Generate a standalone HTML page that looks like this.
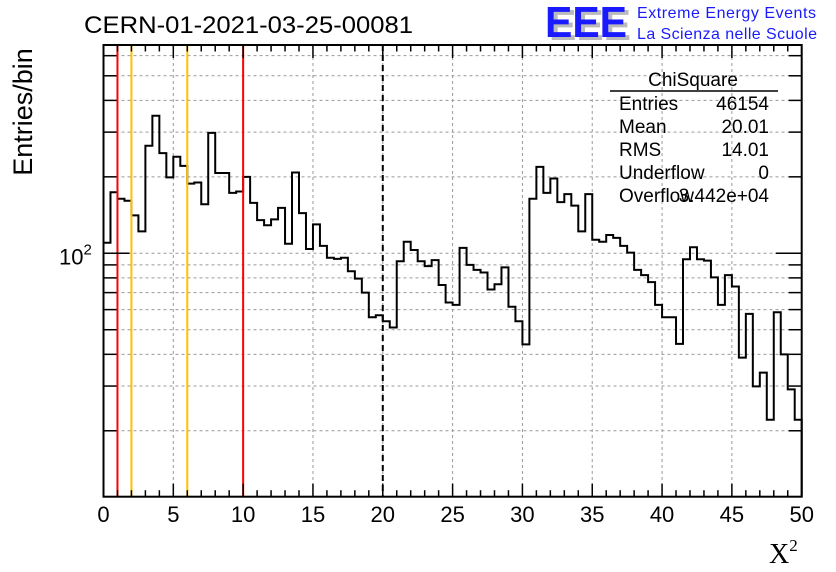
<!DOCTYPE html>
<html><head><meta charset="utf-8"><style>
body{margin:0;background:#fff}
svg{display:block;font-family:"Liberation Sans",sans-serif}
</style></head><body>
<svg id="c" width="836" height="572" viewBox="0 0 836 572">
<rect width="836" height="572" fill="#fff"/>
<text x="84" y="33" font-size="24" textLength="329" lengthAdjust="spacingAndGlyphs">CERN-01-2021-03-25-00081</text>
<g>
<text x="549" y="40" font-size="44" font-weight="bold" fill="#bbb" textLength="82" lengthAdjust="spacingAndGlyphs">EEE</text>
<text x="545" y="37" font-size="44" font-weight="bold" fill="#1a1aff" textLength="82" lengthAdjust="spacingAndGlyphs">EEE</text>
<text x="637" y="18" font-size="16" fill="#1a1aff" textLength="179">Extreme Energy Events</text>
<text x="637" y="39" font-size="16" fill="#1a1aff" textLength="180">La Scienza nelle Scuole</text>
</g>
<g id="grid"></g>
<g id="marks"></g>
<g id="axes"></g>
<g font-size="19">
<text x="693" y="86" text-anchor="middle">ChiSquare</text>
<line x1="610" y1="91" x2="778" y2="91" stroke="#000" stroke-width="1.5"/>
<text x="619" y="110">Entries</text><text x="769" y="110" text-anchor="end">46154</text>
<text x="619" y="133">Mean</text><text x="769" y="133" text-anchor="end">20.01</text>
<text x="619" y="156">RMS</text><text x="769" y="156" text-anchor="end">14.01</text>
<text x="619" y="179">Underflow</text><text x="769" y="179" text-anchor="end">0</text>
<text x="619" y="202">Overflow</text><text x="769" y="202" text-anchor="end">3.442e+04</text>
</g>
<text transform="translate(32,112) rotate(-90)" font-size="27" text-anchor="middle">Entries/bin</text>
<text x="769" y="563" font-size="28" font-family="Liberation Serif,serif">X<tspan font-size="17" dy="-12">2</tspan></text>
</svg>
<script>
const counts=[110,174,164,161,141,122,265,348,248,199,240,221,188,190,156,298,207,207,173,175,
200,158,135,129,136,151,109,208,144,104,130,107,96,95,96,85,79.5,70,56,57,
54,51,93,111,103,93,89,94,75,64,62.6,105,90,86,84,72,75.5,88,61.6,54,
43.8,164,219,173,197,159,171,154,122,171,113,111,118,115,107,100.6,86,82,77,62.6,
56,56,44,94.7,105.6,94.7,93.6,80.4,62.6,82,74,38.8,57.7,29.9,33.9,22.1,58.6,40,29.1,22.1];
const xTicks=[0,5,10,15,20,25,30,35,40,45,50];
const yMinor=[20,30,40,50,60,70,80,90,200,300,400,500,600];
const cutLines=[{v:1,c:"#f00",n:"cut-line-1"},{v:2,c:"#ffc000",n:"cut-line-2"},{v:6,c:"#ffc000",n:"cut-line-6"},{v:10,c:"#f00",n:"cut-line-10"}];
const meanLine=20;
const X0=103.5,X1=801.7,Y0=496.7,Y1=45,XMIN=0,XMAX=50,YMIN=11.0,YMAX=661;
const sx=v=>X0+(v-XMIN)/(XMAX-XMIN)*(X1-X0);
const sy=v=>Y0-(Math.log10(v)-Math.log10(YMIN))/(Math.log10(YMAX)-Math.log10(YMIN))*(Y0-Y1);
const NS="http://www.w3.org/2000/svg";
function mk(t,a,p){const e=document.createElementNS(NS,t);for(const k in a)e.setAttribute(k,a[k]);p.appendChild(e);return e;}
const grid=document.getElementById('grid'),marks=document.getElementById('marks'),axes=document.getElementById('axes');
xTicks.forEach(t=>{if(t>XMIN&&t<XMAX){const l=mk('line',{x1:sx(t),x2:sx(t),y1:Y1,y2:Y0,stroke:'#999','stroke-dasharray':'3,3','stroke-width':1},grid);

}});
yMinor.concat([100]).forEach(t=>{const l=mk('line',{x1:X0,x2:X1,y1:sy(t),y2:sy(t),stroke:'#999','stroke-dasharray':'3,3','stroke-width':1},grid);

});
const bw=(XMAX-XMIN)/counts.length;
let d=`M${sx(0)},${Y0}`;
counts.forEach((c,i)=>{d+=` L${sx(i*bw)},${sy(c)} L${sx((i+1)*bw)},${sy(c)}`;});
d+=` L${sx(XMAX)},${Y0}`;
const h=mk('path',{d:d,fill:'none',stroke:'#000','stroke-width':2},marks);


cutLines.forEach(o=>{const l=mk('line',{x1:sx(o.v),x2:sx(o.v),y1:Y1,y2:Y0,stroke:o.c,'stroke-width':2},marks);

});
const ml=mk('line',{x1:sx(meanLine),x2:sx(meanLine),y1:Y1,y2:Y0,stroke:'#000','stroke-width':2,'stroke-dasharray':'6,4'},marks);


const fr=mk('rect',{x:X0,y:Y1,width:X1-X0,height:Y0-Y1,fill:'none',stroke:'#000','stroke-width':2},axes);


for(let v=XMIN;v<=XMAX;v++){const maj=v%5===0,L=maj?13:6.5;
mk('line',{x1:sx(v),x2:sx(v),y1:Y0,y2:Y0-L,stroke:'#000','stroke-width':1.5},axes);
mk('line',{x1:sx(v),x2:sx(v),y1:Y1,y2:Y1+L,stroke:'#000','stroke-width':1.5},axes);}
xTicks.forEach(t=>{const tx=mk('text',{x:sx(t),y:522,'font-size':22,'text-anchor':'middle'},axes);tx.textContent=t;

});
yMinor.forEach(t=>{mk('line',{x1:X0,x2:X0+13,y1:sy(t),y2:sy(t),stroke:'#000','stroke-width':1.5},axes);
mk('line',{x1:X1,x2:X1-13,y1:sy(t),y2:sy(t),stroke:'#000','stroke-width':1.5},axes);});
mk('line',{x1:X0,x2:X0+26,y1:sy(100),y2:sy(100),stroke:'#000','stroke-width':1.5},axes);
mk('line',{x1:X1,x2:X1-26,y1:sy(100),y2:sy(100),stroke:'#000','stroke-width':1.5},axes);
const yl=mk('text',{x:59,y:sy(100)+11,'font-size':22},axes);


yl.innerHTML='10<tspan font-size="15" dy="-10">2</tspan>';
</script>
</body></html>
